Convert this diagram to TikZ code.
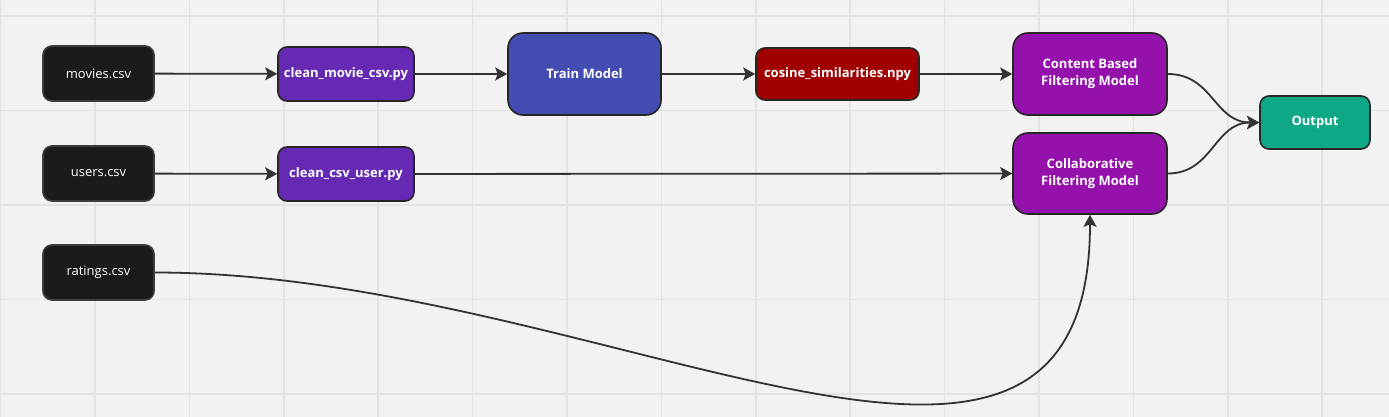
\documentclass[tikz,border=0pt]{standalone}
\usepackage{fontspec}
\setmainfont{Open Sans}
\usetikzlibrary{arrows.meta}
\definecolor{bg}{HTML}{F2F2F2}
\definecolor{gridc}{HTML}{E3E3E3}
\definecolor{filec}{HTML}{1B1B1B}
\definecolor{scriptc}{HTML}{6529B3}
\definecolor{trainc}{HTML}{434CB0}
\definecolor{npyc}{HTML}{A10000}
\definecolor{modelc}{HTML}{9511AB}
\definecolor{outc}{HTML}{0FA886}
\definecolor{edgec}{HTML}{333333}
\definecolor{borderc}{HTML}{262626}
\tikzset{
  box/.style={draw=borderc, line width=1.6pt, text=white, align=center, inner sep=0pt, font=\fontsize{13}{17}\selectfont\bfseries},
  filebox/.style={box, fill=filec, draw=filec!85!white, rounded corners=9pt, minimum width=111pt, minimum height=55pt, font=\fontsize{13}{17}\selectfont},
  scriptbox/.style={box, fill=scriptc, rounded corners=9pt, minimum width=136pt, minimum height=54pt},
  bigbox/.style={box, rounded corners=15pt, minimum width=154pt, minimum height=82pt},
  flow/.style={draw=edgec, line width=1.8pt, -{Stealth[length=12pt,width=13pt,inset=2.5pt]}},
}
\begin{document}
\begin{tikzpicture}[x=1pt,y=-1pt]
\fill[bg] (0,0) rectangle (1389,417);
\useasboundingbox (0,0) rectangle (1389,417);
\foreach \k in {0,...,14} {\draw[gridc, line width=1.5pt] ({0.6+94.4*\k},0) -- ({0.6+94.4*\k},417);}
\foreach \k in {0,...,4} {\draw[gridc, line width=1.5pt] (0,{16+94.5*\k}) -- (1389,{16+94.5*\k});}

\node[filebox] (movies) at (98.5,73.5) {movies.csv};
\node[filebox] (users) at (98.5,173.5) {users.csv};
\node[filebox] (ratings) at (98.5,272.5) {ratings.csv};
\node[scriptbox] (cleanmovie) at (346,74) {clean\_movie\_csv.py};
\node[scriptbox] (cleanuser) at (346,174) {clean\_csv\_user.py};
\node[bigbox, fill=trainc, minimum width=153pt] (train) at (584.5,74) {Train Model};
\node[box, fill=npyc, rounded corners=9pt, minimum width=163pt, minimum height=52pt] (cosine) at (837.5,74) {cosine\_similarities.npy};
\node[bigbox, fill=modelc] (content) at (1090,74) {Content Based\\Filtering Model};
\node[bigbox, fill=modelc, minimum height=81pt] (collab) at (1090,173.5) {Collaborative\\Filtering Model};
\node[box, fill=outc, rounded corners=9pt, minimum width=110pt, minimum height=53pt] (output) at (1315,122.5) {Output};

\draw[flow] (movies) -- (cleanmovie);
\draw[flow] (cleanmovie) -- (train);
\draw[flow] (train) -- (cosine);
\draw[flow] (cosine) -- (content);
\draw[flow] (users) -- (cleanuser);
\draw[flow] (cleanuser) -- (collab);
\draw[flow] (content.east) .. controls +(45,0) and +(-45,0) .. (output.west);
\draw[flow] (collab.east) .. controls +(45,0) and +(-45,0) .. (output.west);
\draw[flow] (ratings.east) .. controls +(450,0) and +(0,385) .. (collab.south);
\end{tikzpicture}
\end{document}
